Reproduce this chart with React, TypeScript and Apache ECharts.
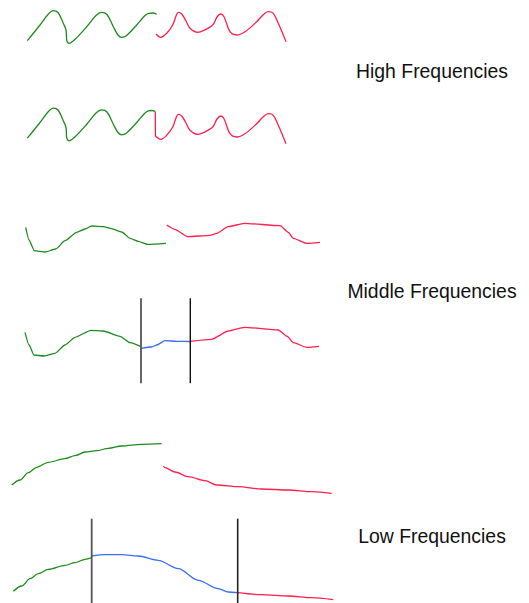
import React, { useEffect, useRef } from "react";
import * as echarts from "echarts";

// Sketch coordinates: x = time, y = signal level (axis inverted, top = 0)
const highGreenA = [[27.3,40.7],[40,25],[48,14.5],[53.3,10.7],[58,12.5],[63.3,23.3],[66,30],[66.8,40.7],[69,43.3],[75,39.3],[86.7,26.7],[96,15.5],[101.7,12.3],[107,14.5],[113.3,26.7],[118,35],[121.7,37.3],[126,36],[136.7,25],[144,16.5],[148.3,13.3],[153,13],[156.7,14.3]];
const highRedA = [[156,34],[160.7,37.3],[166.7,33.3],[172.7,25],[176,16],[178.3,12.3],[181.7,14],[186,21],[190,28.3],[197.7,32.3],[203.3,30.7],[212.7,25],[217,17],[220.7,14],[224,16.7],[230,31.7],[236.7,35],[245,31.7],[256.7,21.7],[263,15],[268.3,11.7],[273.3,13.3],[278.3,23.3],[286,41.7]];
const highGreenB = [[27.3,138.2],[40,122.5],[48,112],[53.3,108.2],[58,110],[63.3,120.8],[66,127.5],[66.8,138.2],[69,140.8],[75,136.8],[86.7,124.2],[96,113],[101.7,109.8],[107,112],[113.3,124.2],[118,132.5],[121.7,134.8],[126,133.5],[136.7,122.5],[144,114],[148.3,110.8],[152,110.5],[155.3,111.5]];
const highJumpB = [[155.3,111.5],[155.4,136]];
const highRedB = [[155.4,136],[160.7,139.3],[166.7,135.3],[172.7,127],[176,118],[178.3,114.3],[181.7,116],[186,123],[190,130.3],[197.7,134.3],[203.3,132.7],[212.7,127],[217,119],[220.7,116],[224,118.7],[230,133.7],[236.7,137],[245,133.7],[256.7,123.7],[263,117],[268.3,113.7],[273.3,115.3],[278.3,125.3],[286,143.7]];

const midGreenA = [[25.7,227.3],[29,240],[34.3,250.7],[45,252],[55.7,249],[65,240.7],[76.7,232.3],[85,229],[91.7,226],[103.3,226.7],[111.7,228.7],[121.7,232],[130,238.3],[138.3,241.3],[147.7,244.3],[166,243.3]];
const midRedA = [[166.7,225],[175,229.3],[187.7,236.7],[210,235.3],[216.7,233.3],[228.3,226.7],[244.3,223.3],[280,225.7],[288.3,232.3],[293.3,238.3],[306.7,243.3],[320,242.3]];
const midGreenB = [[25,332.3],[29,345],[34,355],[44.3,356],[55,353.3],[65,345],[75,337.3],[91,330.3],[103.3,331],[120,336.3],[130,342.7],[141,346.7]];
const midBlueB = [[141,348.3],[151.7,347],[156.7,345],[165,340.7],[176.7,341.3],[190.3,341.5]];
const midRedB = [[190.3,341.3],[211.7,339.3],[228.3,331],[244.3,327.3],[278.3,330],[287.7,336.7],[293.3,342.7],[306.7,347.3],[319,346.3]];
const midCutLeft = [[141,298.3],[141,383.3]];
const midCutRight = [[190.3,298.3],[190.3,383.3]];

const lowGreenA = [[11.7,485],[20,480],[28.3,472.7],[36.7,467.3],[48.3,462.3],[65,458.7],[75,455.7],[85,452],[96.7,450.7],[108.3,448.3],[121.7,446],[141.7,444.3],[161.7,443.7]];
const lowRedA = [[163.3,466],[165,467.7],[175,472],[188.3,476.7],[205,480.7],[216.7,485],[238.3,486.7],[261.7,489],[288.3,490],[311.7,491.7],[331.7,493.3]];
const lowGreenB = [[13.3,591.3],[21.7,586],[30,578.7],[38.3,573.7],[48.3,569.3],[65,565.3],[75,562.7],[85,559.3],[91.7,557.7]];
const lowBlueB = [[91.7,556],[105,554.7],[121.7,554.7],[138.3,556],[158.3,560.3],[178.3,568.7],[198.3,580.3],[218.3,588.7],[228.3,592],[237.7,592.7]];
const lowRedB = [[237.7,592.7],[261.7,594.7],[288.3,596],[311.7,597.7],[333.3,599.7]];
const lowCutLeft = [[91.7,518.7],[91.7,603]];
const lowCutRight = [[237.7,518.7],[237.7,603]];

const labels = ["High Frequencies", "Middle Frequencies", "Low Frequencies"];

const GREEN = "#1f8a1f";
const RED = "#ff1f4b";
const BLUE = "#3a6cf5";
const FONT = "19.4px 'Liberation Sans', Arial, sans-serif";

function curve(data: number[][], color: string, smooth: number, mono: boolean) {
  return {
    type: "line",
    data,
    smooth,
    smoothMonotone: mono ? "x" : undefined,
    showSymbol: false,
    symbol: "none",
    lineStyle: { color, width: 1.3 },
    silent: true,
  };
}

function cut(data: number[][], color: string, width: number) {
  return {
    type: "line",
    data,
    showSymbol: false,
    symbol: "none",
    lineStyle: { color, width },
    silent: true,
  };
}

function label(text: string, y: number) {
  return {
    type: "text",
    x: 432,
    y,
    style: { text, fill: "#111", font: FONT, textAlign: "center", textVerticalAlign: "middle" },
  };
}

export default function App() {
  const ref = useRef<HTMLDivElement>(null);
  useEffect(() => {
    if (!ref.current) return;
    const chart = echarts.init(ref.current, null, { renderer: "svg" });
    chart.setOption({
      animation: false,
      backgroundColor: "#ffffff",
      grid: { left: 0, right: 0, top: 0, bottom: 0 },
      xAxis: { type: "value", min: 0, max: 529, show: false },
      yAxis: { type: "value", min: 0, max: 603, inverse: true, show: false },
      series: [
        curve(highGreenA, GREEN, 0.35, false),
        curve(highRedA, RED, 0.35, false),
        curve(highGreenB, GREEN, 0.35, false),
        cut(highJumpB, RED, 1.3),
        curve(highRedB, RED, 0.35, false),
        curve(midGreenA, GREEN, 0.2, true),
        curve(midRedA, RED, 0.2, true),
        curve(midGreenB, GREEN, 0.2, true),
        curve(midBlueB, BLUE, 0.2, true),
        curve(midRedB, RED, 0.2, true),
        cut(midCutLeft, "#555555", 1.8),
        cut(midCutRight, "#111111", 1.4),
        curve(lowGreenA, GREEN, 0.3, true),
        curve(lowRedA, RED, 0.3, true),
        curve(lowGreenB, GREEN, 0.3, true),
        curve(lowBlueB, BLUE, 0.3, true),
        curve(lowRedB, RED, 0.3, true),
        cut(lowCutLeft, "#555555", 1.8),
        cut(lowCutRight, "#222222", 1.6),
      ],
      graphic: [label(labels[0], 70.5), label(labels[1], 290.5), label(labels[2], 536)],
    });
    return () => chart.dispose();
  }, []);
  return (
    <div
      ref={ref}
      style={{ position: "fixed", left: 0, top: 0, width: 529, height: 603 }}
    />
  );
}
